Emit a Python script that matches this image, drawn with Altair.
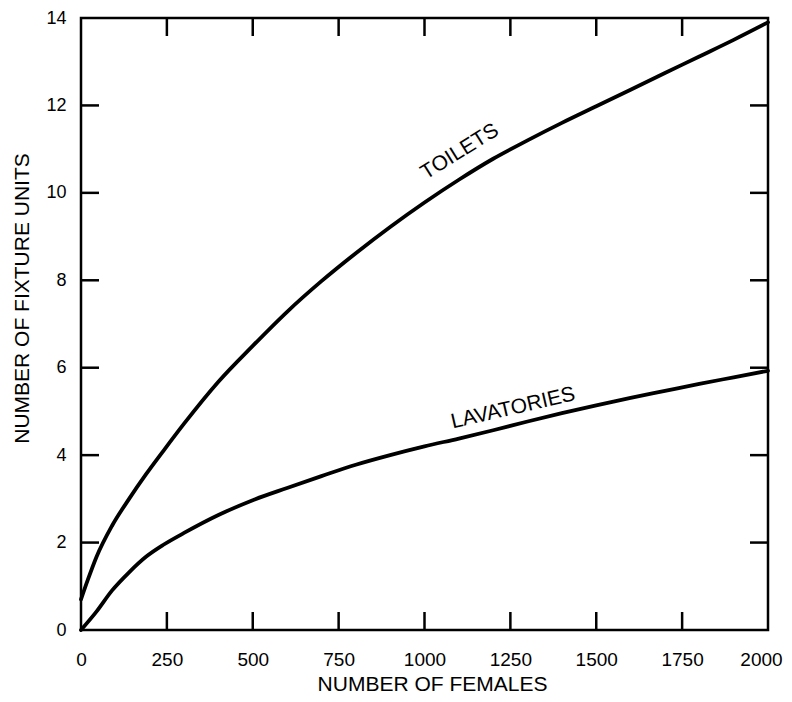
import altair as alt
import pandas as pd

# ---- data ----
toilet_x = [0, 20, 45, 90, 140, 190, 240, 300, 400, 500, 600, 700, 800, 900, 1000,
            1100, 1200, 1300, 1400, 1500, 1600, 1700, 1800, 1900, 2000]
toilet_y = [0.7, 1.15, 1.67, 2.38, 3.0, 3.57, 4.1, 4.72, 5.68, 6.5, 7.28, 7.98, 8.62, 9.22, 9.78,
            10.3, 10.78, 11.2, 11.6, 11.98, 12.36, 12.74, 13.12, 13.5, 13.9]
lav_x = [0, 45, 90, 140, 190, 240, 300, 400, 500, 600, 700, 800, 900, 1000,
         1100, 1200, 1300, 1400, 1500, 1600, 1700, 1800, 1900, 2000]
lav_y = [0, 0.42, 0.9, 1.32, 1.68, 1.95, 2.22, 2.63, 2.97, 3.25, 3.52, 3.78, 4.0, 4.2,
         4.38, 4.57, 4.77, 4.96, 5.14, 5.31, 5.47, 5.63, 5.78, 5.93]

x_ticks = [0, 250, 500, 750, 1000, 1250, 1500, 1750, 2000]
y_ticks = [0, 2, 4, 6, 8, 10, 12, 14]
x_inner_ticks = [250, 500, 750, 1000, 1250, 1500, 1750]
y_inner_ticks = [2, 4, 6, 8, 10, 12]

label_names = ["TOILETS", "LAVATORIES"]
label_x = [1103, 1258]
label_y = [10.94, 5.07]

W, H = 687, 612
TICK = 18
FONT = "Liberation Sans"

lines_df = pd.concat([
    pd.DataFrame({"x": toilet_x, "y": toilet_y, "series": "Toilets"}),
    pd.DataFrame({"x": lav_x, "y": lav_y, "series": "Lavatories"}),
])

xscale = alt.Scale(domain=[0, 2000], nice=False, zero=False)
yscale = alt.Scale(domain=[0, 14], nice=False, zero=False)

x_axis = alt.Axis(values=x_ticks, format="d", title="NUMBER OF FEMALES",
                  tickSize=0, domain=False, grid=False, labelFlush=False,
                  labelOffset={"condition": {"test": "datum.value == 2000", "value": -7}, "value": 0},
                  labelFontSize=19, labelPadding=20, labelFont=FONT, labelColor="black",
                  titleFont=FONT, titleFontSize=21, titleFontWeight="normal", titleColor="black",
                  titleX=351, titleY=60, titleBaseline="alphabetic", titleAlign="center")
y_axis = alt.Axis(values=y_ticks, title="NUMBER OF FIXTURE UNITS",
                  tickSize=0, domain=False, grid=False, labelFlush=False,
                  labelFontSize=18, labelPadding=15, labelFont=FONT, labelColor="black",
                  titleFont=FONT, titleFontSize=21, titleFontWeight="normal", titleColor="black",
                  titleX=-53, titleY=280, titleBaseline="alphabetic", titleAlign="center")

X = alt.X("x:Q", scale=xscale, axis=x_axis)
Y = alt.Y("y:Q", scale=yscale, axis=y_axis)

curves = alt.Chart(lines_df).mark_line(
    color="black", strokeWidth=3.8, interpolate="monotone", strokeCap="round"
).encode(x=X, y=Y, detail="series:N")

xt = pd.DataFrame({"x": x_inner_ticks})
yt = pd.DataFrame({"y": y_inner_ticks})
tick_style = dict(color="black", strokeWidth=2.5)

bottom_ticks = alt.Chart(xt).mark_rule(**tick_style).encode(
    x=X, y=alt.value(H), y2=alt.value(H - TICK))
top_ticks = alt.Chart(xt).mark_rule(**tick_style).encode(
    x=X, y=alt.value(0), y2=alt.value(TICK))
left_ticks = alt.Chart(yt).mark_rule(**tick_style).encode(
    y=Y, x=alt.value(0), x2=alt.value(TICK))
right_ticks = alt.Chart(yt).mark_rule(**tick_style).encode(
    y=Y, x=alt.value(W), x2=alt.value(W - TICK))

lab_df = pd.DataFrame({"x": label_x, "y": label_y, "text": label_names})
toilet_label = alt.Chart(lab_df[lab_df.text == "TOILETS"]).mark_text(
    angle=328, font=FONT, fontSize=21, color="black", align="center", baseline="middle"
).encode(x=X, y=Y, text="text:N")
lav_label = alt.Chart(lab_df[lab_df.text == "LAVATORIES"]).mark_text(
    angle=347, font=FONT, fontSize=21, color="black", align="center", baseline="middle"
).encode(x=X, y=Y, text="text:N")

chart = alt.layer(
    bottom_ticks, top_ticks, left_ticks, right_ticks, curves, toilet_label, lav_label
).properties(
    width=W, height=H,
    autosize=alt.AutoSizeParams(type="none"),
    padding={"left": 73, "top": 10, "right": 16, "bottom": 64},
    background="white",
).configure_view(stroke="black", strokeWidth=2.5)

chart.save("out.html", embed_options={"renderer": "svg", "actions": False})
